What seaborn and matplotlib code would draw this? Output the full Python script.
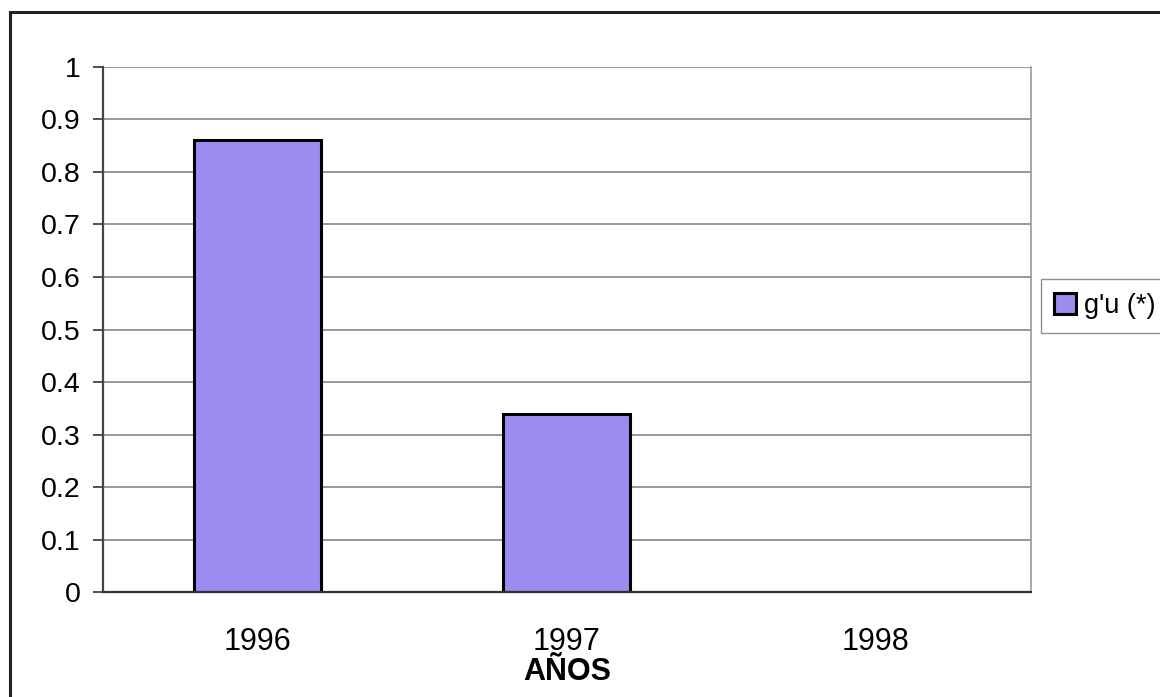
import matplotlib
matplotlib.use("Agg")
import matplotlib.pyplot as plt
import seaborn as sns
import pandas as pd
from matplotlib.patches import Rectangle

# Data
years = ["1996", "1997", "1998"]
gu_values = [0.86, 0.34, 0.0]
series_label = "g'u (*)"
y_ticks = [0, 0.1, 0.2, 0.3, 0.4, 0.5, 0.6, 0.7, 0.8, 0.9, 1]
y_tick_labels = ["0", "0.1", "0.2", "0.3", "0.4", "0.5", "0.6", "0.7", "0.8", "0.9", "1"]
x_title = "AÑOS"

df = pd.DataFrame({"year": years, "gu": gu_values})

sns.set_theme(style="white")
plt.rcParams["font.family"] = ["Liberation Sans", "DejaVu Sans"]
plt.rcParams["text.color"] = "black"
plt.rcParams["xtick.color"] = "black"
plt.rcParams["ytick.color"] = "black"
plt.rcParams["axes.labelcolor"] = "black"

fig = plt.figure(figsize=(11.6, 6.97), dpi=100)
ax = fig.add_axes([0.0888, 0.1506, 0.7996, 0.7533])

bar_color = "#9a8cf0"
sns.barplot(data=df, x="year", y="gu", color=bar_color, edgecolor="black",
            linewidth=2.2, width=0.41, saturation=1, label=series_label, ax=ax)

ax.set_ylim(0, 1)
ax.set_xlim(-0.5, len(years) - 0.5)
ax.set_yticks(y_ticks)
ax.set_yticklabels(y_tick_labels, fontsize=20.5)
ax.tick_params(axis="y", direction="out", length=7, width=1.2, color="#333333", pad=9, left=True)

# category labels centred, tick marks on category boundaries
ax.set_xticks(range(len(years)))
ax.set_xticklabels(years, fontsize=22)
ax.tick_params(axis="x", which="major", length=0, pad=25)
ax.set_xticks([i + 0.5 for i in range(len(years))], minor=True)
ax.tick_params(axis="x", which="minor", length=7, width=1, color="#999999", direction="out")

ax.set_xlabel(x_title, fontsize=22, fontweight="bold", labelpad=0)
ax.set_ylabel("")

ax.yaxis.grid(True, color="#7a7a7a", linewidth=1.1)
ax.set_axisbelow(True)
ax.spines["top"].set_visible(False)
ax.spines["left"].set_color("#444444")
ax.spines["left"].set_linewidth(1.6)
ax.spines["bottom"].set_color("#333333")
ax.spines["bottom"].set_linewidth(1.6)
ax.spines["right"].set_color("#9a9a9a")
ax.spines["right"].set_linewidth(1.2)

if ax.legend_ is not None:
    ax.legend_.remove()
handles, labels = ax.get_legend_handles_labels()
leg = fig.legend(handles, labels, loc="center left", bbox_to_anchor=(0.897, 0.561),
                 fontsize=19.5, frameon=True, fancybox=False, handlelength=0.8,
                 handleheight=0.8, handletextpad=0.3, borderpad=0.5, borderaxespad=0)
leg.get_frame().set_edgecolor("#777777")
leg.get_frame().set_linewidth(1.0)

# outer chart frame
fig.patches.append(Rectangle((0.0086, -0.01), 1.0, 0.993, transform=fig.transFigure,
                             fill=False, edgecolor="#222222", linewidth=2.2))

fig.savefig("out.png", dpi=100, facecolor="white")
